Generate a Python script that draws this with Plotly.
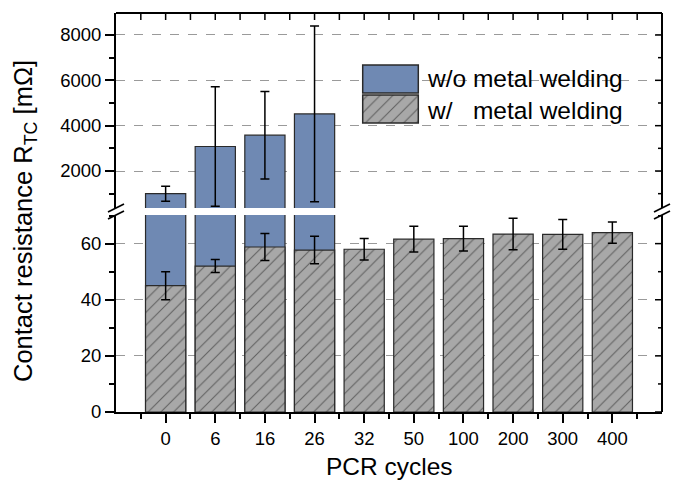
import plotly.graph_objects as go

# ---------------- data ----------------
categories = ["0", "6", "16", "26", "32", "50", "100", "200", "300", "400"]
wo_welding = [1000, 3080, 3580, 4520]          # w/o metal welding (first 4 cycles)
wo_welding_err = [330, 2640, 1930, 3880]
w_welding = [45.0, 52.0, 58.8, 57.7, 58.0, 61.6, 61.8, 63.4, 63.3, 63.9]
w_welding_err = [5.0, 2.3, 4.8, 4.9, 3.8, 4.6, 4.4, 5.6, 5.3, 3.8]
lower_ticks = [0, 20, 40, 60]
lower_minor = [10, 30, 50, 70]
upper_ticks = [2000, 4000, 6000, 8000]
upper_minor = [1000, 3000, 5000, 7000]

# ---------------- style ----------------
W, H = 677, 483
L, T, R, B = 116, 13, 15, 71
PW, PH = W - L - R, H - T - B
BLUE = "#6F89B3"
GREY = "#A8A8A8"
EDGE = "#2a2a2a"
GRID = "#9a9a9a"
FONT = "Liberation Sans, Arial, sans-serif"


def px_x(p):
    return (p - L) / PW


def px_y(p):
    return (H - B - p) / PH


lower_dom = [0, px_y(215)]
upper_dom = [px_y(208), 1]
lower_range = [0, 70.2]
upper_range = [368, 8970]

xs = list(range(len(categories)))
nwo = len(wo_welding)
bar_w = 0.81
err_style = dict(type="data", color="black", thickness=1.5, width=4.5)

fig = go.Figure()
# blue bars in lower panel (clipped at the top of the panel)
fig.add_bar(x=xs[:nwo], y=wo_welding, xaxis="x", yaxis="y", width=bar_w,
            marker=dict(color=BLUE, line=dict(color=EDGE, width=1.2)),
            showlegend=False, hoverinfo="skip")
# hatched bars in lower panel
fig.add_bar(x=xs, y=w_welding, xaxis="x", yaxis="y", width=bar_w,
            marker=dict(color=GREY, line=dict(color=EDGE, width=1.2),
                        pattern=dict(shape="/", fgcolor="#1a1a1a", bgcolor=GREY,
                                     size=9, solidity=0.12)),
            error_y=dict(array=w_welding_err, **err_style),
            showlegend=False)
# blue bars in upper panel
fig.add_bar(x=xs[:nwo], y=wo_welding, xaxis="x", yaxis="y2", width=bar_w,
            marker=dict(color=BLUE, line=dict(color=EDGE, width=1.2)),
            error_y=dict(array=wo_welding_err, **err_style),
            showlegend=False)

# ---- legend swatches (inset axis) ----
legend_names = ["w/\u00a0\u00a0\u00a0metal welding", "w/o metal welding"]
fig.add_bar(x=[1], y=[1], orientation="h", xaxis="x3", yaxis="y5", width=27 / 29,
            marker=dict(color=BLUE, line=dict(color=EDGE, width=1.5)),
            showlegend=False, hoverinfo="skip")
fig.add_bar(x=[1], y=[0], orientation="h", xaxis="x3", yaxis="y5", width=27 / 29,
            marker=dict(color=GREY, line=dict(color=EDGE, width=1.5),
                        pattern=dict(shape="/", fgcolor="#1a1a1a", bgcolor=GREY,
                                     size=9, solidity=0.12)),
            showlegend=False, hoverinfo="skip")

tickfont = dict(family=FONT, size=18.5, color="black")
common_y = dict(showline=True, linewidth=2, linecolor="black", zeroline=False,
                tickwidth=1.5, tickcolor="black", tickfont=tickfont)

half_steps = [x - 0.5 for x in xs] + [xs[-1] + 0.5]
all_top = sorted(set(xs + half_steps))
xrange_ = [-1, len(categories)]

fig.update_layout(
    width=W, height=H,
    margin=dict(l=L, r=R, t=T, b=B),
    paper_bgcolor="white", plot_bgcolor="white",
    barmode="overlay",
    font=dict(family=FONT, color="black"),
    xaxis=dict(domain=[0, 1], anchor="y", range=xrange_, tickmode="array",
               tickvals=xs, ticktext=categories, ticks="outside", ticklen=9,
               tickwidth=1.5, tickcolor="black", showline=True, linewidth=2,
               linecolor="black", showgrid=False, zeroline=False, tickfont=tickfont,
               minor=dict(tickvals=half_steps, ticks="outside", ticklen=5,
                          tickwidth=1.5, tickcolor="black", showgrid=False)),
    yaxis=dict(domain=lower_dom, anchor="x", range=lower_range, tickmode="array",
               tickvals=lower_ticks, ticks="outside", ticklen=9,
               showgrid=True, gridcolor=GRID, griddash="dash", gridwidth=1,
               minor=dict(tickvals=lower_minor, ticks="outside", ticklen=5,
                          tickwidth=1.5, tickcolor="black", showgrid=False),
               **common_y),
    yaxis2=dict(domain=upper_dom, anchor="x", range=upper_range, tickmode="array",
                tickvals=upper_ticks, ticks="outside", ticklen=9,
                showgrid=True, gridcolor=GRID, griddash="dash", gridwidth=1,
                minor=dict(tickvals=upper_minor, ticks="outside", ticklen=5,
                           tickwidth=1.5, tickcolor="black", showgrid=False),
                **common_y),
    xaxis3=dict(domain=[px_x(360.7), px_x(420.3)], anchor="y5",
                range=[-2 / 55.6, 1 + 2 / 55.6], visible=False, fixedrange=True),
    yaxis5=dict(domain=[px_y(124), px_y(64)], anchor="x3", range=[-0.5, 1.5],
                visible=False, fixedrange=True),
)

shapes = []
frame_line = dict(color="black", width=2)
tick_line = dict(color="black", width=1.5)
# white background behind the legend
shapes.append(dict(type="rect", xref="paper", yref="paper",
                   x0=px_x(358), x1=px_x(630), y0=px_y(123.5), y1=px_y(60),
                   fillcolor="white", line=dict(width=0), layer="between"))
# frame: top line and right lines (one per panel)
shapes.append(dict(type="line", xref="paper", yref="paper", x0=0, x1=1,
                   y0=1, y1=1, line=frame_line, layer="above"))
for dom in (lower_dom, upper_dom):
    shapes.append(dict(type="line", xref="paper", yref="paper", y0=dom[0], y1=dom[1],
                       x0=1, x1=1, line=frame_line, layer="above"))
# inward ticks on the top frame (at the x-axis tick positions)
top_len = 7 / PH
for v in all_top:
    shapes.append(dict(type="line", xref="x", yref="paper", x0=v, x1=v,
                       y0=1, y1=1 - top_len, line=tick_line, layer="above"))
# inward ticks on the right frame (at the y-axis tick positions)
for yref, major, minor in (("y", lower_ticks, lower_minor),
                           ("y2", upper_ticks, upper_minor)):
    for vals, ln in ((major, 7), (minor, 4)):
        for v in vals:
            shapes.append(dict(type="line", xref="paper", yref=yref, y0=v, y1=v,
                               x0=1, x1=1 - ln / PW, line=tick_line,
                               layer="above"))
# axis-break marks (left and right)
yb = px_y(211.5)
for xa in (0, 1):
    for dy in (3.5, -3.5):
        shapes.append(dict(type="line", xref="paper", yref="paper",
                           xsizemode="pixel", xanchor=xa, ysizemode="pixel",
                           yanchor=yb, x0=-8, x1=8, y0=dy - 4, y1=dy + 4,
                           line=dict(color="black", width=1.8)))
fig.update_layout(shapes=shapes)

big = dict(family=FONT, size=24.5, color="black")
annotations = [
    dict(text="Contact resistance R<sub>TC</sub> [mΩ]", textangle=-90,
         xref="paper", yref="paper", x=px_x(25), y=px_y(221),
         xanchor="center", yanchor="middle", showarrow=False,
         font=dict(family=FONT, size=25.5, color="black")),
    dict(text="PCR cycles", xref="paper", yref="paper", x=px_x(389), y=px_y(466),
         xanchor="center", yanchor="middle", showarrow=False, font=big),
    dict(text=legend_names[1], xref="paper", yref="paper", x=px_x(425),
         y=px_y(78.5), xanchor="left", yanchor="middle", showarrow=False, font=big),
    dict(text=legend_names[0], xref="paper", yref="paper", x=px_x(425),
         y=px_y(110), xanchor="left", yanchor="middle", showarrow=False, font=big),
]
fig.update_layout(annotations=annotations)

fig.write_html("out.html")
